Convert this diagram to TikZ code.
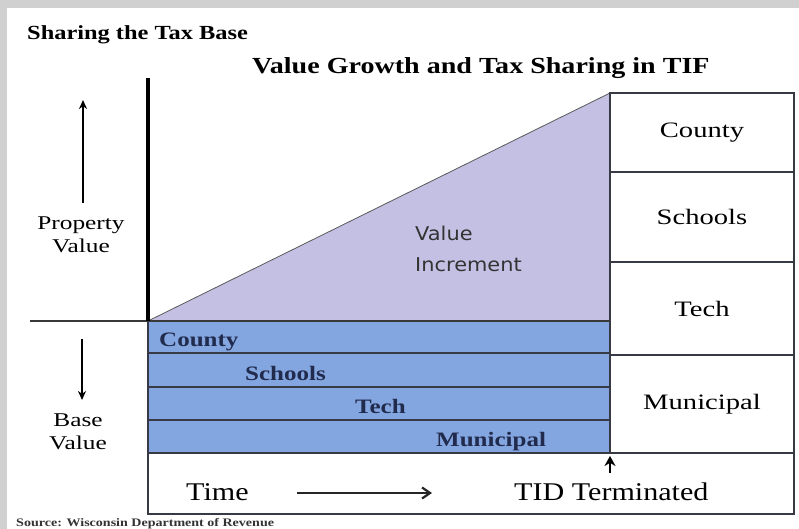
\documentclass[tikz,border=0pt]{standalone}
\usepackage{fontspec}
\setmainfont{Liberation Serif}
\newfontfamily\headfont{Liberation Serif}[FakeStretch=1.22]
\newfontfamily\wideserif{Liberation Serif}[FakeStretch=1.3]
\newfontfamily\timefont{Liberation Serif}[FakeStretch=1.18]
\newfontfamily\incfont{DejaVu Sans}[FakeStretch=1.1]
\usepackage{tikz}
\usetikzlibrary{arrows.meta,positioning}
\definecolor{incpurple}{RGB}{196,192,228}
\definecolor{baseblue}{RGB}{132,166,224}
\definecolor{bandink}{RGB}{33,43,77}
\definecolor{rulegray}{RGB}{55,58,68}
\definecolor{framegray}{RGB}{208,208,208}

\begin{document}
\begin{tikzpicture}[x=1pt, y=-1pt, >=Stealth,
    colbox/.style={draw=rulegray, line width=1.6pt, fill=white, minimum width=184pt,
                   inner sep=0pt, outer sep=0pt, font=\wideserif\fontsize{22}{26}\selectfont},
    band/.style={draw=rulegray, line width=1.6pt, fill=baseblue},
    bandtext/.style={anchor=base west, inner sep=0pt, text=bandink,
                     font=\headfont\bfseries\fontsize{20.5}{24}\selectfont},
    headtext/.style={anchor=base west, inner sep=0pt,
                     font=\headfont\bfseries\fontsize{#1}{#1}\selectfont},
    sidetext/.style={anchor=north, align=center, inner sep=0pt,
                     font=\wideserif\fontsize{19.5}{23}\selectfont},
    timetext/.style={anchor=base west, inner sep=0pt,
                     font=\timefont\fontsize{25.5}{30}\selectfont},
    arr/.style={-{Stealth[length=9pt,width=8pt]}, line width=1.6pt}
  ]
  \useasboundingbox (0,0) rectangle (799,529);
  \fill[framegray] (0,0) rectangle (799,8);
  \fill[framegray] (0,0) rectangle (7,529);

  % titles and source line
  \node[headtext=20] (mainTitle) at (27,40) {Sharing the Tax Base};
  \node[headtext=23] (subTitle) at (252,74) {Value Growth and Tax Sharing in TIF};
  \node[headtext=11.5, text=black!80] (srcLbl) at (16,526)
       {Source: Wisconsin Department of Revenue};

  % increment wedge above the base
  \fill[incpurple] (148,321) -- (610,93) -- (610,321) -- cycle;
  \draw[gray!70!black, line width=0.8pt] (148,321) -- (610,93);
  \node[anchor=north west, align=left, inner sep=0pt,
        font=\incfont\fontsize{19}{31}\selectfont, text=black!80] (incLbl) at (415,226)
       {Value\\Increment};

  % base value bands
  \foreach \name/\ya/\yb/\lx in {County/321/353/159, Schools/353/387/245,
                                 Tech/387/420/355, Municipal/420/453/436}{
    \draw[band] (148,\ya) rectangle (610,\yb);
    \node[bandtext] (b\name) at (\lx,\yb-7) {\name};
  }

  % shares after termination
  \node[colbox, minimum height=79pt] (cCounty) at (702,132.5) {County};
  \node[colbox, minimum height=90pt, below=0pt of cCounty] (cSchools) {Schools};
  \node[colbox, minimum height=93pt, below=0pt of cSchools] (cTech) {Tech};
  \node[colbox, minimum height=98pt, below=0pt of cTech] (cMunicipal) {Municipal};

  % time strip
  \draw[rulegray, line width=1.6pt] (148,453) rectangle (794,514);
  \node[timetext] (timeLbl) at (186,500) {Time};
  \node[timetext] (tidLbl) at (514,500) {TID Terminated};
  \coordinate (timeTail) at (297,493);
  \coordinate (timeHead) at (432,493);
  \draw[-{Straight Barb[length=8pt,width=11pt]}, line width=2.2pt, black!85]
       (timeTail) -- (timeHead);
  \coordinate (tidTail) at (610,473);
  \coordinate (tidTip) at (610,456);
  \draw[-{Stealth[length=10pt,width=11pt]}, line width=2.6pt] (tidTail) -- (tidTip);

  % axes
  \draw[gray!45!black, line width=1.5pt] (30,321) -- (610,321);
  \draw[line width=3.5pt] (148,78) -- (148,321);
  \draw[rulegray, line width=2.2pt] (148,321) -- (148,514);

  % side labels
  \node[sidetext] (propLbl) at (81,217) {Property\\Value};
  \node[sidetext] (baseLbl) at (78,414) {Base\\Value};
  \coordinate (propTail) at (83,203);
  \coordinate (propTip) at (83,100);
  \coordinate (baseTail) at (82,339);
  \coordinate (baseTip) at (82,400);
  \draw[arr] (propTail) -- (propTip);
  \draw[arr] (baseTail) -- (baseTip);
\end{tikzpicture}
\end{document}
